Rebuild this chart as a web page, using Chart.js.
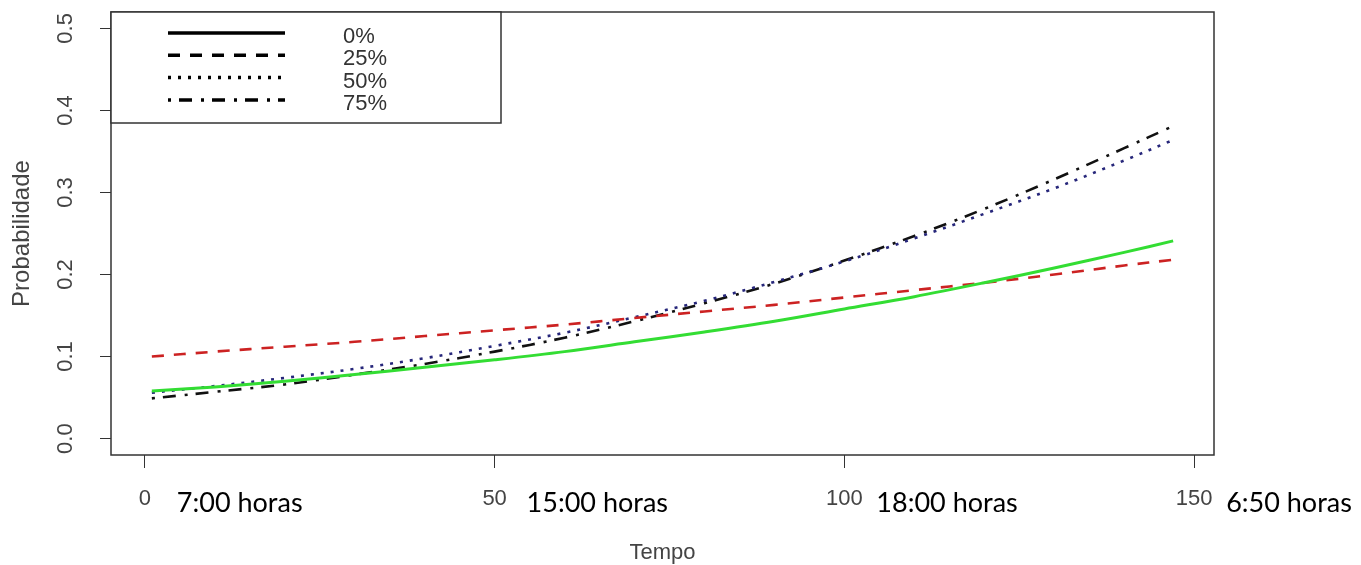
<!DOCTYPE html>
<html>
<head>
<meta charset="utf-8">
<script src="https://cdn.jsdelivr.net/npm/chart.js@4.4.1/dist/chart.umd.min.js"></script>
<style>
  html, body { margin: 0; padding: 0; background: #fff; }
</style>
</head>
<body>
<canvas id="chart" width="1361" height="565"></canvas>
<script>
// Tempo (x) and predicted probability per scenario
const tempo = [1, 10, 20, 30, 40, 50, 60, 70, 80, 90, 100, 110, 120, 130, 140, 147];
const p0  = [0.058, 0.063, 0.070, 0.078, 0.087, 0.096, 0.106, 0.118, 0.130, 0.143, 0.158, 0.173, 0.190, 0.208, 0.227, 0.241];
const p25 = [0.100, 0.106, 0.112, 0.118, 0.125, 0.132, 0.139, 0.147, 0.155, 0.163, 0.172, 0.181, 0.190, 0.200, 0.211, 0.218];
const p50 = [0.056, 0.064, 0.074, 0.085, 0.098, 0.113, 0.129, 0.148, 0.168, 0.191, 0.216, 0.244, 0.274, 0.305, 0.339, 0.364];
const p75 = [0.049, 0.057, 0.066, 0.078, 0.091, 0.106, 0.123, 0.143, 0.165, 0.189, 0.217, 0.247, 0.280, 0.316, 0.354, 0.381];

const legendLabels = ['0%', '25%', '50%', '75%'];
const xTicks = [0, 50, 100, 150];
const yTicks = [0.0, 0.1, 0.2, 0.3, 0.4, 0.5];
const horaLabels = ['7:00 horas', '15:00 horas', '18:00 horas', '6:50 horas'];

const rFont = '"Liberation Sans", Arial, sans-serif';
const colors = ['#33dd33', '#cc2222', '#26267a', '#111111'];
const dashes = [[], [12, 10], [3, 7], [3, 8, 13, 9]];

function pts(ys) { return tempo.map((x, i) => ({ x, y: ys[i] })); }

// R-like frame, rotated y labels, hour notes and legend
const rExtras = {
  id: 'rExtras',
  afterDatasetsDraw(chart) {
    const { ctx, chartArea: a, scales } = chart;
    ctx.save();
    ctx.strokeStyle = '#333';
    ctx.lineWidth = 1.5;
    ctx.setLineDash([]);
    ctx.strokeRect(a.left, a.top, a.right - a.left, a.bottom - a.top);

    ctx.fillStyle = '#444';
    ctx.font = '22px ' + rFont;
    ctx.textAlign = 'center';
    ctx.textBaseline = 'middle';
    yTicks.forEach(v => {
      const y = scales.y.getPixelForValue(v);
      ctx.save();
      ctx.translate(66, y);
      ctx.rotate(-Math.PI / 2);
      ctx.fillText(v.toFixed(1), 0, 0);
      ctx.restore();
    });

    ctx.fillStyle = '#000';
    ctx.font = '27px Lato, sans-serif';
    ctx.textAlign = 'left';
    xTicks.forEach((v, i) => {
      ctx.fillText(horaLabels[i], scales.x.getPixelForValue(v) + 32, 503);
    });

    // legend box
    ctx.fillStyle = '#fff';
    ctx.fillRect(a.left, a.top, 390, 111);
    ctx.strokeStyle = '#333';
    ctx.lineWidth = 1.5;
    ctx.strokeRect(a.left, a.top, 390, 111);
    ctx.font = '22px ' + rFont;
    ctx.textAlign = 'left';
    legendLabels.forEach((lab, i) => {
      const y = a.top + 21 + i * 22.3;
      ctx.strokeStyle = '#000';
      ctx.lineWidth = 3.5;
      ctx.setLineDash(dashes[i]);
      ctx.beginPath();
      ctx.moveTo(168, y);
      ctx.lineTo(285, y);
      ctx.stroke();
      ctx.fillStyle = '#333';
      ctx.fillText(lab, 343, y + 4);
    });
    ctx.restore();
  }
};

const series = [p0, p25, p50, p75];

new Chart(document.getElementById('chart'), {
  type: 'line',
  data: {
    datasets: series.map((s, i) => ({
      label: legendLabels[i],
      data: pts(s),
      borderColor: colors[i],
      borderWidth: i === 0 ? 3 : 2.6,
      borderDash: dashes[i],
      pointRadius: 0,
      tension: 0.35,
      fill: false
    }))
  },
  options: {
    responsive: false,
    animation: false,
    layout: { padding: { top: 12, right: 147, left: 0, bottom: 0 } },
    plugins: { legend: { display: false }, tooltip: { enabled: false } },
    scales: {
      x: {
        type: 'linear',
        min: -4.84,
        max: 152.84,
        afterBuildTicks: s => { s.ticks = xTicks.map(v => ({ value: v })); },
        afterFit: s => { s.height = 110; },
        border: { display: false },
        grid: { drawOnChartArea: false, drawTicks: true, tickLength: 13, tickColor: '#333', tickWidth: 1 },
        ticks: { color: '#444', font: { family: rFont, size: 22 }, padding: 18, maxRotation: 0 },
        title: { display: true, text: 'Tempo', color: '#444', font: { family: rFont, size: 22, lineHeight: 1 }, padding: { top: 0, bottom: 1 } }
      },
      y: {
        min: -0.02,
        max: 0.52,
        afterBuildTicks: s => { s.ticks = yTicks.map(v => ({ value: v })); },
        afterFit: s => { s.width = 111; },
        border: { display: false },
        grid: { drawOnChartArea: false, drawTicks: true, tickLength: 11, tickColor: '#333', tickWidth: 1 },
        ticks: { display: false },
        title: { display: true, text: 'Probabilidade', color: '#444', font: { family: rFont, size: 24 }, padding: { top: 8, bottom: 0 } }
      }
    }
  },
  plugins: [rExtras]
});
</script>
</body>
</html>
